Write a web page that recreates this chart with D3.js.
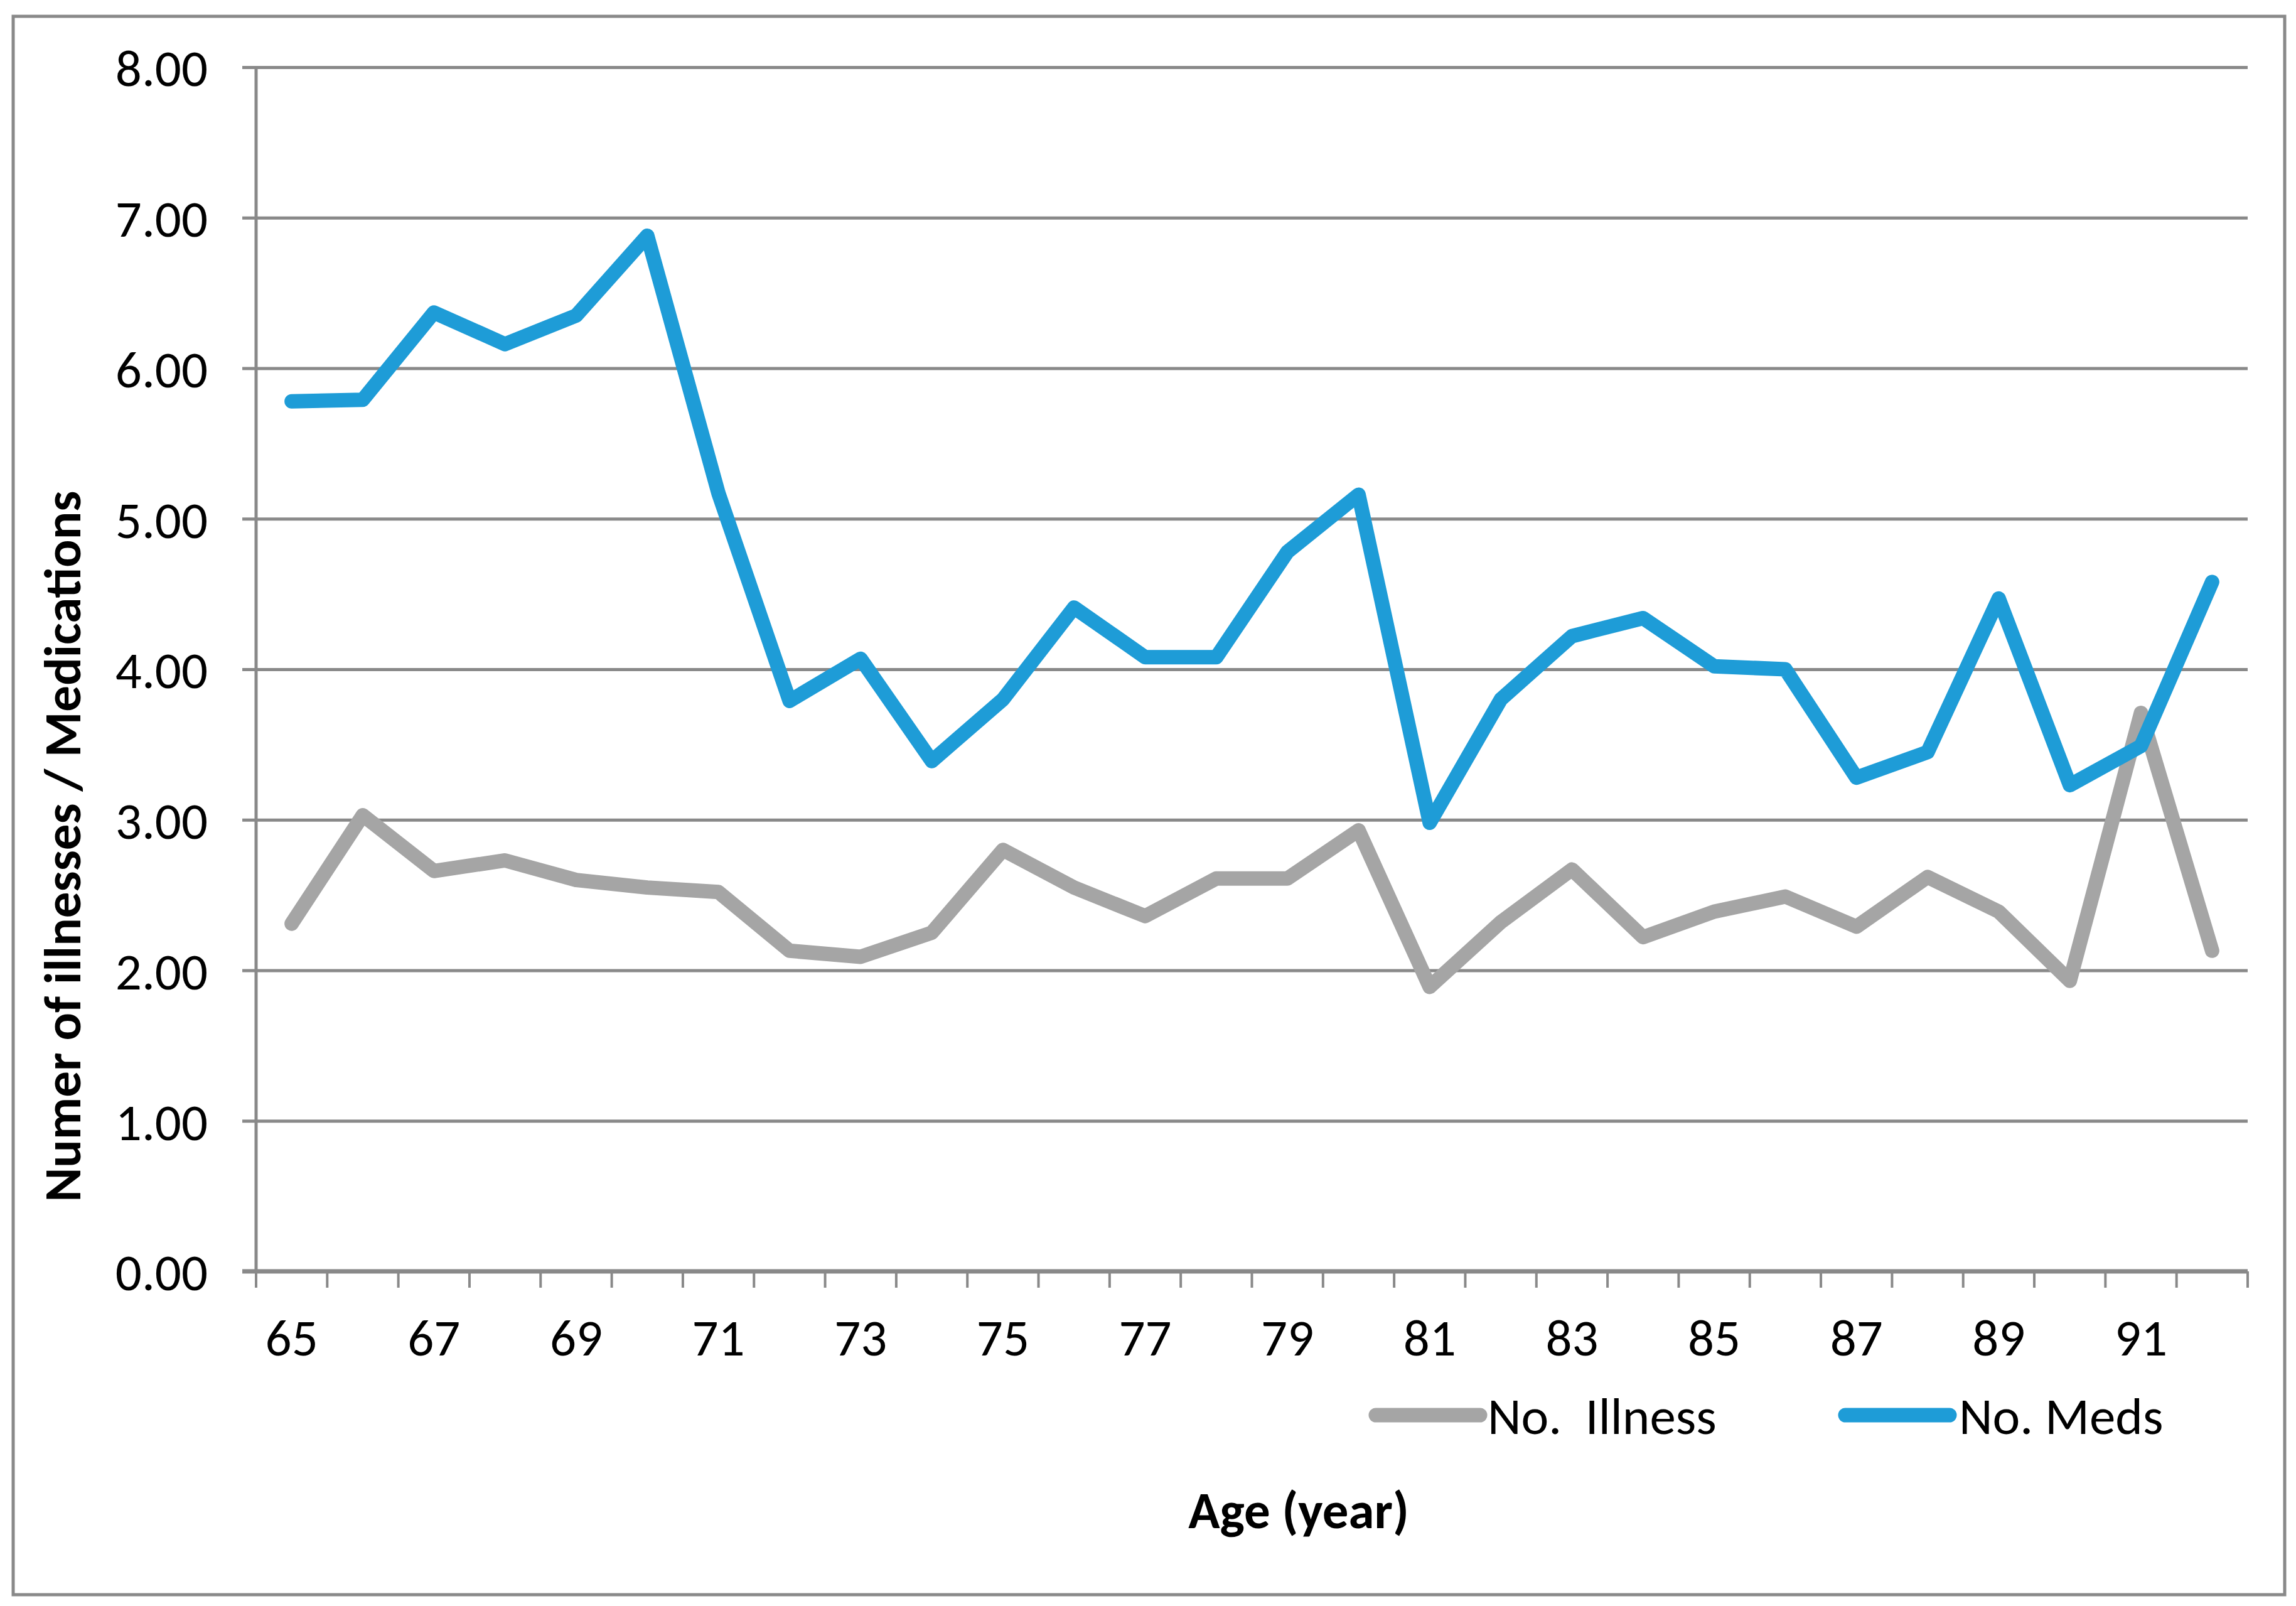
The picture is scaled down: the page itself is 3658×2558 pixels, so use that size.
<!DOCTYPE html>
<html><head><meta charset="utf-8">
<script src="https://cdn.jsdelivr.net/npm/d3@7"></script>
<style>
html,body{margin:0;padding:0;background:#fff;}
svg{display:block;}
text{font-family:Carlito,Calibri,Lato,"Open Sans",sans-serif;fill:#000;white-space:pre;}
</style></head>
<body>
<svg id="chart" width="3658" height="2558"></svg>
<script>
const ages = [65,66,67,68,69,70,71,72,73,74,75,76,77,78,79,80,81,82,83,84,85,86,87,88,89,90,91,92];
const illness = [2.31,3.03,2.66,2.73,2.60,2.55,2.52,2.13,2.09,2.25,2.80,2.55,2.36,2.61,2.61,2.93,1.89,2.32,2.67,2.22,2.39,2.49,2.29,2.62,2.39,1.93,3.71,2.13];
const meds = [5.78,5.79,6.37,6.16,6.35,6.88,5.17,3.79,4.07,3.39,3.80,4.41,4.08,4.08,4.78,5.16,2.98,3.80,4.22,4.34,4.02,4.00,3.28,3.45,4.47,3.23,3.49,4.58];
const yTicks = [0,1,2,3,4,5,6,7,8];
const xLabels = [65,67,69,71,73,75,77,79,81,83,85,87,89,91];
const seriesNames = ["No.  Illness","No. Meds"];
const colors = ["#A5A5A5","#1E9CD7"];

const svg = d3.select("#chart");
const L = 408, R = 3581, T = 107, B = 2025;
const gridColor = "#898989";
const FS = 83;

// outer border
svg.append("rect").attr("x",21).attr("y",26).attr("width",3619).attr("height",2514)
  .attr("fill","none").attr("stroke",gridColor).attr("stroke-width",5);

const x = d3.scaleBand().domain(ages).range([L,R]).padding(0);
const y = d3.scaleLinear().domain([0,8]).range([B,T]);

// y axis with gridlines
const gy = svg.append("g").attr("transform",`translate(${L},0)`)
  .call(d3.axisLeft(y).tickValues(yTicks).tickFormat(d3.format(".2f")).tickSizeInner(-(R-L)).tickSizeOuter(0).tickPadding(0));
gy.select(".domain").remove();
gy.selectAll(".tick line").attr("x1",-22).attr("stroke",gridColor).attr("stroke-width",5);
gy.selectAll(".tick text").attr("x",-77).attr("dy","0.36em").attr("font-size",FS);
// y axis vertical line
svg.append("line").attr("x1",L).attr("x2",L).attr("y1",T).attr("y2",B)
  .attr("stroke",gridColor).attr("stroke-width",5);

// x axis line & boundary ticks
svg.append("line").attr("x1",L-22).attr("x2",R).attr("y1",B).attr("y2",B)
  .attr("stroke",gridColor).attr("stroke-width",7);
const bounds = ages.map(a => x(a)).concat([x(ages[ages.length-1]) + x.bandwidth()]);
svg.append("g").selectAll("line").data(bounds).join("line")
  .attr("x1",d=>d).attr("x2",d=>d).attr("y1",B).attr("y2",B+26)
  .attr("stroke",gridColor).attr("stroke-width",4);

const gx = svg.append("g").attr("transform",`translate(0,${B})`)
  .call(d3.axisBottom(x).tickValues(xLabels).tickSize(0).tickPadding(0));
gx.select(".domain").remove();
gx.selectAll(".tick text").attr("y",134).attr("dy",0).attr("font-size",FS);

// lines
const line = d3.line().x((d,i)=>x(ages[i]) + x.bandwidth()/2).y(d=>y(d));
[illness, meds].forEach((s,k)=>{
  svg.append("path").datum(s).attr("d",line).attr("fill","none")
    .attr("stroke",colors[k]).attr("stroke-width",23)
    .attr("stroke-linejoin","round").attr("stroke-linecap","round");
});

// legend
const legY = 2254;
const legItems = [{x1:2192,x2:2358,tx:2370},{x1:2940,x2:3106,tx:3121}];
legItems.forEach((l,k)=>{
  svg.append("line").attr("x1",l.x1).attr("x2",l.x2).attr("y1",legY).attr("y2",legY)
    .attr("stroke",colors[k]).attr("stroke-width",23).attr("stroke-linecap","round");
  svg.append("text").attr("x",l.tx).attr("y",legY).attr("dy","0.36em")
    .attr("font-size",FS).text(seriesNames[k]);
});

// axis titles
svg.append("text").attr("x",2069).attr("y",2434).attr("text-anchor","middle")
  .attr("font-size",FS).attr("font-weight","bold").text("Age (year)");
svg.append("text").attr("transform","translate(128,1348) rotate(-90)")
  .attr("text-anchor","middle").attr("font-size",FS).attr("font-weight","bold")
  .text("Numer of illnesses / Medications");
</script>
</body></html>
